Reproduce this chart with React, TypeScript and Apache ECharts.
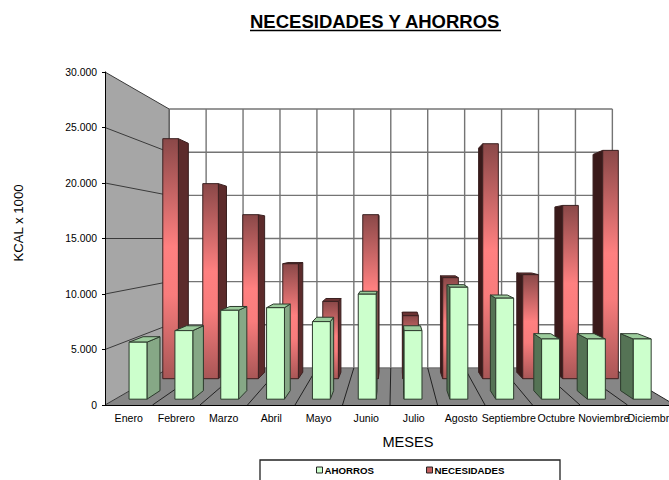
import React, { useEffect, useRef } from "react";
import * as echarts from "echarts";

const months = ["Enero", "Febrero", "Marzo", "Abril", "Mayo", "Junio", "Julio", "Agosto", "Septiembre", "Octubre", "Noviembre", "Diciembre"];
const ahorros = [5320, 6400, 8300, 8540, 7240, 9800, 6400, 10450, 9430, 5620, 5620, 5620];
const necesidades = [25680, 20870, 17550, 12300, 8270, 17550, 6740, 10810, 25140, 11130, 18540, 24430];
const yTicks = [0, 5000, 10000, 15000, 20000, 25000, 30000];

// Perspective of the 3D box: everything recedes towards this point.
const VP_X = 393.5;
const VP_Y = 238.5;
const BACK = 0.7775;

const FONT = '"Liberation Sans", Arial, sans-serif';

function project(p: number[], s: number) {
  return [VP_X + (p[0] - VP_X) * s, VP_Y + (p[1] - VP_Y) * s];
}

function thousands(v: number) {
  return String(v).replace(/\B(?=(\d{3})+$)/g, ".");
}

function renderBox(palette: any, sFront: number, sBack: number) {
  return (_: any, api: any) => {
    const i = api.value(0);
    const v = api.value(1);
    const band = api.size([1, 0])[0];
    const half = band * 0.195;
    const top = api.coord([i, v]);
    const bottom = api.coord([i, 0]);
    const corner = (base: number[], dx: number, s: number) => project([base[0] + dx, base[1]], s);

    const fTL = corner(top, -half, sFront);
    const fTR = corner(top, half, sFront);
    const fBL = corner(bottom, -half, sFront);
    const fBR = corner(bottom, half, sFront);
    const bTL = corner(top, -half, sBack);
    const bTR = corner(top, half, sBack);
    const bBL = corner(bottom, -half, sBack);
    const bBR = corner(bottom, half, sBack);

    const edge = { stroke: palette.edge, lineWidth: 1 };
    const children: any[] = [];
    if (bTR[0] > fTR[0]) {
      children.push({ type: "polygon", shape: { points: [fTR, bTR, bBR, fBR] }, style: { fill: palette.sideRight, ...edge } });
    }
    if (bTL[0] < fTL[0]) {
      children.push({ type: "polygon", shape: { points: [fTL, bTL, bBL, fBL] }, style: { fill: palette.sideLeft, ...edge } });
    }
    if (fTL[1] > VP_Y) {
      children.push({ type: "polygon", shape: { points: [fTL, bTL, bTR, fTR] }, style: { fill: palette.top, ...edge } });
    }
    children.push({ type: "polygon", shape: { points: [fTL, fTR, fBR, fBL] }, style: { fill: palette.front, ...edge } });
    return { type: "group", children };
  };
}

// Left wall, floor and back wall with their grid lines.
function renderRoom(_: any, api: any) {
  const band = api.size([1, 0])[0];
  const last = months.length - 1;
  const xEdge = (k: number) => api.coord([0, 0])[0] - band / 2 + k * band;
  const yAt = (v: number) => api.coord([0, v])[1];
  const x0 = xEdge(0);
  const x1 = xEdge(last + 1);
  const y0 = yAt(0);
  const yMax = yAt(yTicks[yTicks.length - 1]);

  const line = (a: number[], b: number[], stroke: string, lineWidth = 1) => ({
    type: "line",
    shape: { x1: a[0], y1: a[1], x2: b[0], y2: b[1] },
    style: { stroke, lineWidth },
  });

  const children: any[] = [
    { type: "polygon", shape: { points: [[x0, y0], [x0, yMax], project([x0, yMax], BACK), project([x0, y0], BACK)] }, style: { fill: "#a6a6a6" } },
    { type: "polygon", shape: { points: [[x0, y0], [x1, y0], project([x1, y0], BACK), project([x0, y0], BACK)] }, style: { fill: "#868686" } },
  ];

  yTicks.forEach((t) => {
    const y = yAt(t);
    children.push(line(project([x0, y], BACK), project([x1, y], BACK), "#747474", 1.4));
    children.push(line([x0, y], project([x0, y], BACK), "#3a3a3a", 1));
  });

  for (let k = 0; k <= months.length; k++) {
    const x = xEdge(k);
    children.push(line(project([x, yMax], BACK), project([x, y0], BACK), "#747474", 1.4));
    if (k > 0) children.push(line([x, y0], project([x, y0], BACK), "#222222", 1));
  }
  children.push(line(project([x0, yMax], BACK), project([x0, y0], BACK), "#5a5a5a", 1));
  return { type: "group", children };
}

const redFront = {
  type: "linear",
  x: 0,
  y: 0,
  x2: 0,
  y2: 1,
  colorStops: [
    { offset: 0, color: "#8a4848" },
    { offset: 0.45, color: "#ff8080" },
    { offset: 0.65, color: "#f87c7c" },
    { offset: 1, color: "#a85656" },
  ],
};

const redPalette = { front: redFront, sideRight: "#5c2b2b", sideLeft: "#3a1a1a", top: "#6b3333", edge: "#3a2020" };
const greenPalette = { front: "#ccffcc", sideRight: "#86a886", sideLeft: "#557355", top: "#9ccc9c", edge: "#2c3a2c" };

export default function App() {
  const ref = useRef<HTMLDivElement>(null);

  useEffect(() => {
    const chart = echarts.init(ref.current!, null, { renderer: "svg" });
    chart.setOption({
      animation: false,
      backgroundColor: "#ffffff",
      title: {
        text: "NECESIDADES Y AHORROS",
        left: 250,
        top: 12,
        padding: 0,
        textStyle: { fontFamily: FONT, fontSize: 18.5, fontWeight: "bold", color: "#000000" },
      },
      grid: { left: 105, top: 72, width: 570, height: 333 },
      xAxis: {
        type: "category",
        data: months,
        z: 3,
        axisLine: { lineStyle: { color: "#000000", width: 1 } },
        axisTick: { length: 3, lineStyle: { color: "#000000" } },
        axisLabel: { interval: 0, margin: 7, hideOverlap: false, fontFamily: FONT, fontSize: 10.6, color: "#000000" },
      },
      yAxis: {
        type: "value",
        min: 0,
        max: 30000,
        interval: 5000,
        z: 3,
        axisLine: { show: true, lineStyle: { color: "#000000", width: 1 } },
        axisTick: { show: true, length: 3, lineStyle: { color: "#000000" } },
        splitLine: { show: false },
        axisLabel: { margin: 8, fontFamily: FONT, fontSize: 10.4, color: "#000000", formatter: (v: number) => thousands(v) },
      },
      legend: {
        left: 316,
        top: 465,
        padding: 0,
        itemGap: 52,
        itemWidth: 6,
        itemHeight: 6,
        data: [
          { name: "AHORROS", icon: "rect", itemStyle: { color: "#ccffcc", borderColor: "#222222", borderWidth: 1 } },
          { name: "NECESIDADES", icon: "rect", itemStyle: { color: "#c46060", borderColor: "#222222", borderWidth: 1 } },
        ],
        textStyle: { fontFamily: FONT, fontSize: 9.7, fontWeight: "bold", color: "#000000", padding: [0, 0, 0, -3] },
      },
      graphic: [
        { type: "line", shape: { x1: 250, y1: 30.5, x2: 501, y2: 30.5 }, style: { stroke: "#000000", lineWidth: 1.6 } },
        {
          type: "text",
          x: 18,
          y: 223,
          rotation: Math.PI / 2,
          style: { text: "KCAL x 1000", font: `13.2px ${FONT}`, fill: "#000000", textAlign: "center", textVerticalAlign: "middle" },
        },
        {
          type: "text",
          x: 408,
          y: 442,
          style: { text: "MESES", font: `14.6px ${FONT}`, fill: "#000000", textAlign: "center", textVerticalAlign: "middle" },
        },
        { type: "rect", shape: { x: 260, y: 460, width: 300, height: 40 }, style: { fill: "transparent", stroke: "#222222", lineWidth: 1.3 } },
      ],
      series: [
        { type: "custom", name: "room", data: [[0, 0]], renderItem: renderRoom, silent: true },
        {
          type: "custom",
          name: "NECESIDADES",
          data: necesidades.map((v, i) => [i, v]),
          renderItem: renderBox(redPalette, 0.842, 0.803),
          itemStyle: { color: "#c46060" },
        },
        {
          type: "custom",
          name: "AHORROS",
          data: ahorros.map((v, i) => [i, v]),
          renderItem: renderBox(greenPalette, 0.965, 0.914),
          itemStyle: { color: "#ccffcc" },
        },
      ],
    });
    return () => chart.dispose();
  }, []);

  // The floor and the last month run past the right edge of the 669px frame.
  return (
    <div style={{ position: "absolute", left: 0, top: 0, width: 669, height: 480, overflow: "hidden" }}>
      <div ref={ref} style={{ width: 700, height: 480 }} />
    </div>
  );
}
